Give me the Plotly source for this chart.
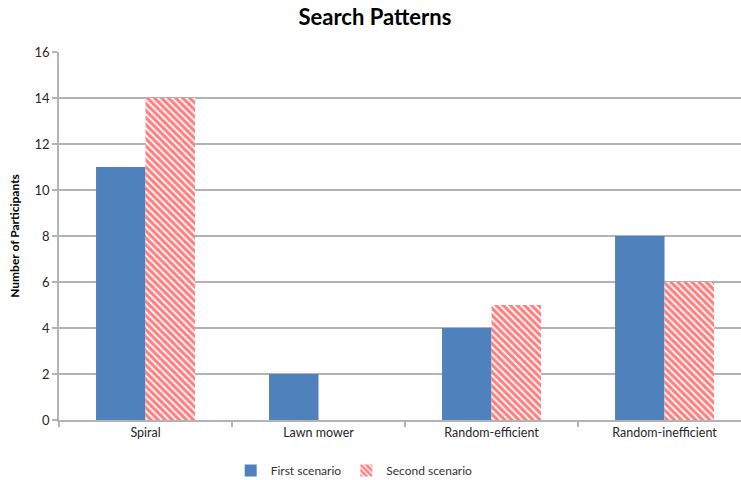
import plotly.graph_objects as go

categories = ["Spiral", "Lawn mower", "Random-efficient", "Random-inefficient"]
first_scenario = [11, 2, 4, 8]
second_scenario = [14, 0, 5, 6]
y_ticks = [0, 2, 4, 6, 8, 10, 12, 14, 16]

FONT = "Lato"
GRID = "#b3b3b3"

fig = go.Figure()
fig.add_trace(go.Bar(
    x=categories, y=first_scenario, name="First scenario",
    marker=dict(color="#4f81bd", line=dict(width=0)),
))
fig.add_trace(go.Bar(
    x=categories, y=second_scenario, name="Second scenario",
    marker=dict(
        color="white",
        line=dict(width=0),
        pattern=dict(shape="\\", fgcolor="#ff0000", bgcolor="white",
                     size=5, solidity=0.65, fillmode="overlay"),
    ),
))

fig.update_layout(
    width=741, height=480,
    margin=dict(l=59, r=0, t=52, b=60),
    paper_bgcolor="white", plot_bgcolor="white",
    barmode="group", bargap=0.428, bargroupgap=0,
    font=dict(family=FONT, size=12, color="#404040"),
    title=dict(text="<b>Search Patterns</b>", x=0.506, xref="container", xanchor="center",
               y=0.963, yref="container", yanchor="middle",
               font=dict(family=FONT, size=22, color="black")),
    legend=dict(orientation="h", xref="container", x=0.478, xanchor="center",
                yref="container", y=0.02, yanchor="middle",
                font=dict(family=FONT, size=12, color="#333333"),
                itemwidth=30, traceorder="normal"),
    showlegend=True,
)
fig.update_xaxes(
    range=[-0.5, 3.442], showgrid=False, showline=True, linecolor=GRID, linewidth=1.5,
    ticks="outside", tickson="boundaries", ticklen=5, tickcolor=GRID, tickwidth=1.5,
    tickfont=dict(family=FONT, size=12.5, color="#262626"), fixedrange=True,
)
fig.update_yaxes(
    range=[0, 16], tickvals=y_ticks, showgrid=True, gridcolor=GRID, gridwidth=1.5,
    zeroline=False, showline=True, linecolor=GRID, linewidth=1.5,
    ticks="outside", ticklen=5, tickcolor=GRID, tickwidth=1.5,
    tickfont=dict(family=FONT, size=13, color="#262626"),
    title=dict(text="<b>Number of Participants</b>", standoff=12,
               font=dict(family=FONT, size=12, color="black")),
)

fig.write_html("out.html")
